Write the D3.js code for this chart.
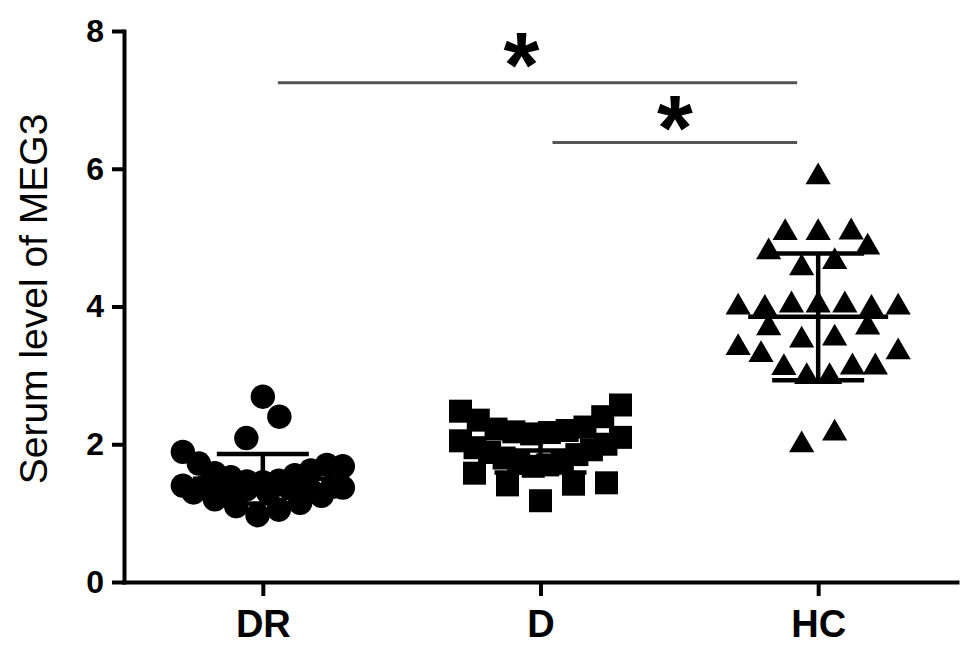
<!DOCTYPE html>
<html><head><meta charset="utf-8">
<script src="https://cdn.jsdelivr.net/npm/d3@7/dist/d3.min.js"></script>
<style>body{margin:0;background:#fff}svg{display:block}</style>
</head><body>
<svg id="chart" width="969" height="652"></svg>
<script>
// ---------- data (listed in data order) ----------
const categories = ["DR", "D", "HC"];
const drValues = [0.97, 1.30, 1.35, 1.05, 1.10, 1.36, 1.32, 1.15, 1.20, 1.33, 1.38, 1.25, 1.30, 1.38, 1.40, 1.37,
  1.45, 1.47, 1.46, 1.55, 1.52, 1.62, 1.58, 1.70, 1.72, 1.68, 1.89,
  2.09, 2.40,
  2.69];
const dValues = [1.18, 1.42, 1.41, 1.44, 1.58,
  1.68, 1.70, 1.72, 1.75, 1.80, 1.85, 1.88, 1.92, 1.95, 2.00, 2.05, 2.10,
  2.15, 2.17, 2.18, 2.20, 2.22, 2.25, 2.35, 2.40, 2.48, 2.57];
const hcValues = [1.99, 2.16,
  2.98, 2.98, 3.11, 3.12, 3.30, 3.12, 3.40, 3.34,
  3.51, 3.54, 3.69, 3.70,
  4.02, 4.02, 4.02, 3.97, 3.97, 3.99, 3.99,
  4.56, 4.65, 4.79, 4.86,
  5.07, 5.08, 5.07,
  5.88];
const means = [1.50, 1.91, 3.85];
const sds = [0.36, 0.32, 0.92];
const yTicks = [0, 2, 4, 6, 8];
const compFrom = ["DR", "D"];
const compTo = ["HC", "HC"];
const compLevel = [7.25, 6.38];
const compLabel = ["*", "*"];
const yTitle = "Serum level of MEG3";

// ---------- layout ----------
const svg = d3.select("#chart");
const font = "'Liberation Sans', Arial, sans-serif";
const x = d3.scalePoint().domain(categories).range([124, 957]).padding(0.5);
const y = d3.scaleLinear().domain([0, 8]).range([582, 31]);

const rowHeight = 0.45;   // value span of one scatter row
const maxSpread = 160;    // px, widest row (centre to centre)
const maxStep = 33;       // px, largest gap between neighbours in a row

const groups = [
  {cat: "DR", values: drValues, symbol: d3.symbolCircle, size: Math.PI * 12.2 * 12.2},
  {cat: "D", values: dValues, symbol: d3.symbolSquare, size: 23 * 23},
  {cat: "HC", values: hcValues, symbol: d3.symbolTriangle, size: 275}
];

// Prism-style scatter: values grouped into rows, each row spread symmetrically
// from the centre outward in data order
function scatterLayout(values) {
  const idx = d3.range(values.length).sort((a, b) => values[a] - values[b] || a - b);
  const rows = [];
  idx.forEach(i => {
    const v = values[i], r = rows[rows.length - 1];
    if (r && v < r.start + rowHeight - 1e-9) r.items.push(i);
    else rows.push({start: v, items: [i]});
  });
  const out = [];
  rows.forEach(r => {
    r.items.sort((a, b) => a - b);
    const n = r.items.length;
    const step = n > 1 ? Math.min(maxStep, maxSpread / (n - 1)) : 0;
    const slots = d3.range(n).map(k => (k - (n - 1) / 2) * step);
    const dir = n % 2 === 1 ? -1 : 1;
    slots.sort((a, b) => Math.abs(a) - Math.abs(b) || (a - b) * dir);
    r.items.forEach((i, k) => out.push({v: values[i], dx: slots[k]}));
  });
  return out;
}

groups.forEach(g => {
  const pts = scatterLayout(g.values);
  svg.append("g").selectAll("path").data(pts).join("path")
    .attr("d", d3.symbol().type(g.symbol).size(g.size))
    .attr("transform", d => `translate(${x(g.cat) + d.dx},${y(d.v)})`)
    .attr("fill", "#000");
});

// error bars (mean ± SD)
const eb = svg.append("g").attr("stroke", "#000").attr("stroke-width", 4.5);
categories.forEach((c, i) => {
  const cx = x(c);
  eb.append("line").attr("x1", cx).attr("x2", cx).attr("y1", y(means[i] + sds[i])).attr("y2", y(means[i] - sds[i]));
  eb.append("line").attr("x1", cx - 70).attr("x2", cx + 70).attr("y1", y(means[i])).attr("y2", y(means[i]));
  [means[i] + sds[i], means[i] - sds[i]].forEach(v =>
    eb.append("line").attr("x1", cx - 46).attr("x2", cx + 46).attr("y1", y(v)).attr("y2", y(v)));
});

// axes
const yAxis = svg.append("g").attr("transform", "translate(124,0)")
  .call(d3.axisLeft(y).tickValues(yTicks).tickSize(12).tickSizeOuter(0).tickPadding(8).tickFormat(d3.format("d")));
const xAxis = svg.append("g").attr("transform", "translate(0,582)")
  .call(d3.axisBottom(x).tickSize(14).tickSizeOuter(0).tickPadding(14));
[yAxis, xAxis].forEach(a => {
  a.selectAll("path,line").attr("stroke", "#000").attr("stroke-width", 4);
  a.select("path").attr("stroke-linecap", "square");
  a.selectAll("text").attr("font-family", font).attr("font-weight", "bold").attr("fill", "#000");
});
yAxis.selectAll("text").attr("font-size", 32);
xAxis.selectAll("text").attr("font-size", 38);

// y title
svg.append("text").attr("transform", "translate(47,299) rotate(-90)")
  .attr("text-anchor", "middle").attr("font-family", font).attr("font-size", 39).attr("fill", "#000")
  .text(yTitle);

// significance comparisons
const cg = svg.append("g");
compFrom.forEach((f, i) => {
  const x1 = x(f) + (i === 0 ? 15 : 12), x2 = x(compTo[i]) - 21, yy = y(compLevel[i]);
  cg.append("line").attr("x1", x1).attr("x2", x2).attr("y1", yy).attr("y2", yy)
    .attr("stroke", "#555").attr("stroke-width", 3);
  const mx = i === 0 ? (x1 + x2) / 2 - 16 : (x1 + x2) / 2;
  cg.append("text").attr("x", mx).attr("y", yy + (i === 0 ? 14 : 17)).attr("text-anchor", "middle")
    .attr("font-family", font).attr("font-weight", "bold").attr("font-size", 92).attr("fill", "#000")
    .text(compLabel[i]);
});
</script>
</body></html>
